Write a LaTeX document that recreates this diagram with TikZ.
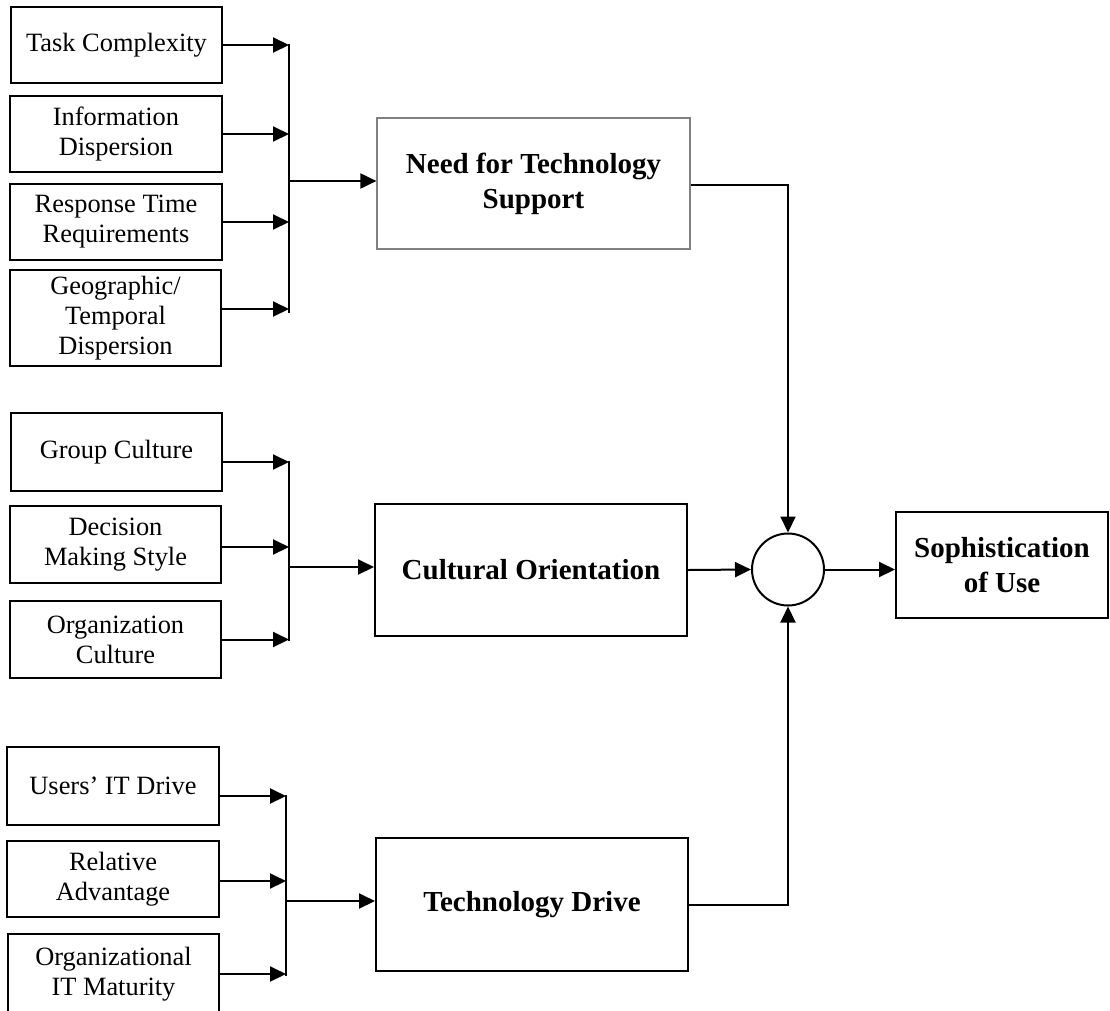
\documentclass[tikz,border=0pt]{standalone}
\usepackage{fontspec}
\setmainfont{Liberation Serif}
\usetikzlibrary{arrows.meta}
\begin{document}
\begin{tikzpicture}[x=1pt,y=-1pt,
  inbox/.style={draw, line width=2pt, inner sep=0pt, align=center, font=\fontsize{26.4}{30}\selectfont},
  mainbox/.style={draw, line width=2pt, inner sep=0pt, align=center, font=\bfseries\fontsize{29}{35}\selectfont},
  conn/.style={line width=2pt},
  arr/.style={conn, -{Triangle[length=16pt,width=15pt]}}]
\useasboundingbox (0,0) rectangle (1110,1010);
% ---- top group
\node[inbox, minimum width=211pt, minimum height=76pt] (tc) at (116.5,45) {Task Complexity};
\node[inbox, minimum width=212pt, minimum height=76pt] (id) at (116,134) {Information\\Dispersion};
\node[inbox, minimum width=212pt, minimum height=76pt] (rt) at (116,222) {Response Time\\Requirements};
\node[inbox, minimum width=211pt, minimum height=96pt] (gt) at (115.5,318) {Geographic/\\Temporal\\Dispersion};
\coordinate (b1t) at (289,44);
\coordinate (b1b) at (289,313);
\coordinate (j1) at (289,181);
\draw[conn] (b1t) -- (b1b);
\draw[arr] (tc.east) -- (tc.east -| b1t);
\draw[arr] (id.east) -- (id.east -| b1t);
\draw[arr] (rt.east) -- (rt.east -| b1t);
\draw[arr] ([yshift=9pt]gt.east) -- ([yshift=9pt]gt.east -| b1t);
\node[mainbox, draw=black!50, line width=1.2pt, minimum width=313pt, minimum height=131pt] (need) at (533.5,183.5) {Need for Technology\\Support};
\draw[arr] (j1) -- (j1 -| need.west);
% ---- middle group
\node[inbox, minimum width=211pt, minimum height=78pt] (gc) at (116.5,452) {Group Culture};
\node[inbox, minimum width=211pt, minimum height=77pt] (dm) at (115.5,544.5) {Decision\\Making Style};
\node[inbox, minimum width=211pt, minimum height=77pt] (oc) at (115.5,639.5) {Organization\\Culture};
\coordinate (b2t) at (289,461);
\coordinate (b2b) at (289,641);
\coordinate (j2) at (289,567);
\draw[conn] (b2t) -- (b2b);
\draw[arr] ([yshift=-10pt]gc.east) -- ([yshift=-10pt]gc.east -| b2t);
\draw[arr] ([yshift=-2.5pt]dm.east) -- ([yshift=-2.5pt]dm.east -| b2t);
\draw[arr] (oc.east) -- (oc.east -| b2t);
\node[mainbox, minimum width=312pt, minimum height=132pt] (cult) at (531,570) {Cultural Orientation};
\draw[arr] (j2) -- (j2 -| cult.west);
% ---- bottom group
\node[inbox, minimum width=212pt, minimum height=78pt] (ui) at (113,786) {Users’ IT Drive};
\node[inbox, minimum width=212pt, minimum height=76pt] (ra) at (113,879) {Relative\\Advantage};
\node[inbox, minimum width=211pt, minimum height=80pt] (om) at (113.5,974) {Organizational\\IT Maturity};
\coordinate (b3t) at (286,795);
\coordinate (b3b) at (286,976);
\coordinate (j3) at (286,901);
\draw[conn] (b3t) -- (b3b);
\draw[arr] ([yshift=-10pt]ui.east) -- ([yshift=-10pt]ui.east -| b3t);
\draw[arr] ([yshift=-2pt]ra.east) -- ([yshift=-2pt]ra.east -| b3t);
\draw[arr] (om.east) -- (om.east -| b3t);
\node[mainbox, minimum width=312pt, minimum height=133pt] (tech) at (532,904.5) {Technology Drive};
\draw[arr] (j3) -- (j3 -| tech.west);
% ---- combination
\node[draw, circle, line width=2pt, minimum size=72pt, inner sep=0pt] (circ) at (788,569.5) {};
\node[mainbox, minimum width=212pt, minimum height=106pt] (soph) at (1002,565) {Sophistication\\of Use};
\draw[arr] ([yshift=-1.5pt]need.east) -| (circ.north);
\draw[arr] (cult.east) -- (circ.west);
\draw[arr] (tech.east) -| (circ.south);
\draw[arr] (circ.east) -- (circ.east -| soph.west);
\end{tikzpicture}
\end{document}
